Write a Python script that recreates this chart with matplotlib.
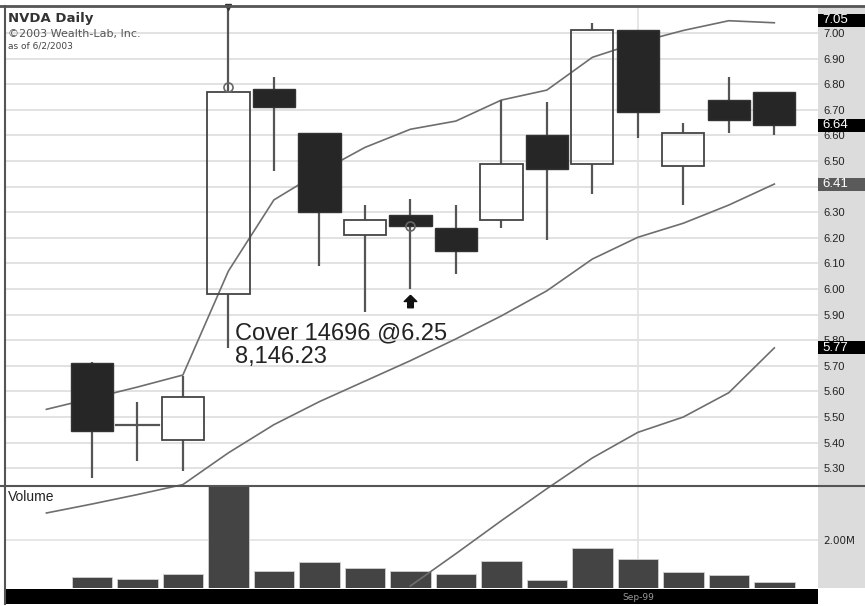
"""NVDA daily candlestick chart with bands and volume, Wealth-Lab style."""

import matplotlib

matplotlib.use("Agg")
import matplotlib.pyplot as plt
import matplotlib.transforms as mtransforms
from matplotlib.lines import Line2D
from matplotlib.patches import Rectangle

W, H = 865, 606

# ---- data ----
bar_idx = list(range(16))
opens = [5.71, 5.47, 5.41, 5.98, 6.78, 6.61, 6.21, 6.29, 6.24, 6.27, 6.60, 6.49, 7.01, 6.48, 6.74, 6.77]
highs = [5.715, 5.56, 5.66, 7.30, 6.83, 6.61, 6.33, 6.35, 6.33, 6.74, 6.73, 7.04, 7.01, 6.65, 6.83, 6.77]
lows = [5.26, 5.33, 5.29, 5.77, 6.46, 6.09, 5.91, 6.00, 6.06, 6.24, 6.19, 6.37, 6.59, 6.33, 6.61, 6.60]
closes = [5.445, 5.47, 5.58, 6.77, 6.71, 6.30, 6.27, 6.245, 6.15, 6.49, 6.47, 7.01, 6.69, 6.61, 6.66, 6.64]
volumes = [0.46e6, 0.37e6, 0.56e6, 5.0e6, 0.72e6, 1.07e6, 0.83e6, 0.72e6, 0.56e6, 1.13e6,
           0.33e6, 1.67e6, 1.18e6, 0.68e6, 0.52e6, 0.23e6]

band_idx = list(range(-1, 16))
upper_band = [5.53, 5.573, 5.617, 5.664, 6.07, 6.348, 6.456, 6.553, 6.624, 6.656, 6.738,
              6.777, 6.905, 6.963, 7.01, 7.048, 7.04]
middle_band = [5.125, 5.16, 5.197, 5.236, 5.36, 5.47, 5.56, 5.64, 5.72, 5.805, 5.895,
               5.993, 6.117, 6.202, 6.257, 6.328, 6.41]
lower_idx = list(range(7, 16))
lower_band = [4.84, 4.966, 5.095, 5.22, 5.34, 5.44, 5.50, 5.595, 5.77]

price_ticks = [5.3, 5.4, 5.5, 5.6, 5.7, 5.8, 5.9, 6.0, 6.1, 6.2, 6.3, 6.4, 6.5, 6.6, 6.7, 6.8, 6.9, 7.0]
hidden_ticks = [6.4]  # fully covered by the 6.41 flag in the reference
flag_values = [7.05, 6.64, 6.41, 5.77]
flag_colors = ["black", "black", "#5a5a5a", "black"]

trade_idx = [3, 7]
trade_prices = [6.79, 6.245]
signal_idx = 7
signal_price = 5.955
date_label_idx = 12
date_label = "Sep-99"


def px_rect(x0, y0, x1, y1):
    """Pixel box (top-left origin) -> figure fraction rect."""
    return [x0 / W, 1 - y1 / H, (x1 - x0) / W, (y1 - y0) / H]


fig = plt.figure(figsize=(W / 100, H / 100), dpi=100)
fig.patch.set_facecolor("white")

xlim = (-1.91, 15.96)
grid_c = "#e2e2e2"

# gray price-scale strip on the right
fig.add_artist(Rectangle((818 / W, 1 - 588 / H), 47 / W, 581 / H, transform=fig.transFigure,
                         facecolor="#dcdcdc", edgecolor="none", zorder=-1))

# ---- volume panel ----
ax_vol = fig.add_axes(px_rect(5, 487, 818, 588))
ax_vol.bar(bar_idx, volumes, width=0.89, color="#444444", edgecolor="#d0d0d0", linewidth=0.6, zorder=2)
ax_vol.set_xlim(*xlim)
ax_vol.set_ylim(0, 4.17e6)
ax_vol.set_yticks([2e6])
ax_vol.set_yticklabels(["2.00M"])
ax_vol.yaxis.tick_right()
ax_vol.tick_params(axis="y", length=0, pad=4, labelsize=7.5, labelcolor="#222222")
ax_vol.set_xticks([])
ax_vol.axhline(2e6, color=grid_c, lw=1.2, zorder=0)
ax_vol.axvline(date_label_idx, color=grid_c, lw=1.2, zorder=0)
for s in ax_vol.spines.values():
    s.set_visible(False)
ax_vol.text(0.004, 0.9, "Volume", transform=ax_vol.transAxes, fontsize=10,
            family="Liberation Sans", color="#222222", va="center")

# ---- price panel ----
ax = fig.add_axes(px_rect(5, 7, 818, 485))
ax.set_xlim(*xlim)
ymin, ymax = 5.2344, 7.1016
ax.set_ylim(ymin, ymax)
ax.set_yticks(price_ticks)
ax.set_yticklabels(["" if t in hidden_ticks else f"{t:.2f}" for t in price_ticks])
ax.yaxis.tick_right()
ax.tick_params(axis="y", length=0, pad=4, labelsize=8, labelcolor="#222222")
for lab in ax.get_yticklabels():
    lab.set_family("Liberation Sans")
ax.set_xticks([])
for s in ax.spines.values():
    s.set_visible(False)
for t in price_ticks:
    ax.axhline(t, color=grid_c, lw=1.4, zorder=0)
ax.axvline(date_label_idx, color=grid_c, lw=1.2, zorder=0)

# bands (drawn under candles, free to run into the volume panel)
band_c = "#6e6e6e"
ax.plot(band_idx, upper_band, color=band_c, lw=1.2, clip_on=False, zorder=1)
ax.plot(band_idx, middle_band, color=band_c, lw=1.2, clip_on=False, zorder=1)
ax.plot(lower_idx, lower_band, color=band_c, lw=1.2, clip_on=False, zorder=1)

# candles
body_w = 0.93
wick_c = "#555555"
for i, o, h, l, c in zip(bar_idx, opens, highs, lows, closes):
    top, bot = max(o, c), min(o, c)
    ax.plot([i, i], [top, h], color=wick_c, lw=1.6, zorder=2, solid_capstyle="butt")
    ax.plot([i, i], [l, bot], color=wick_c, lw=1.6, zorder=2, solid_capstyle="butt")
    if abs(o - c) < 1e-6:
        ax.plot([i - body_w / 2, i + body_w / 2], [o, o], color=wick_c, lw=1.6, zorder=3)
    elif c < o:
        ax.add_patch(Rectangle((i - body_w / 2, bot), body_w, top - bot, facecolor="#262626",
                               edgecolor="#333333", lw=1.0, zorder=3))
    else:
        ax.add_patch(Rectangle((i - body_w / 2, bot), body_w, top - bot, facecolor="none",
                               edgecolor="#444444", lw=1.3, zorder=3))

# clipped-high marker and trade markers
ax.plot([3], [ymax], marker="v", color="#333333", markersize=4, clip_on=False, zorder=5)
ax.plot(trade_idx, trade_prices, ls="none", marker="o", markersize=6.5, markerfacecolor="none",
        markeredgecolor="#666666", markeredgewidth=1.2, zorder=5)
arrow = [(0, 1), (-1, 0), (-0.45, 0), (-0.45, -1), (0.45, -1), (0.45, 0), (1, 0), (0, 1)]
ax.plot([signal_idx], [signal_price], ls="none", marker=arrow, markersize=9, color="#111111", zorder=5)

ax.text(3.14, 5.828, "Cover 14696 @6.25", fontsize=17, family="Liberation Sans",
        color="#222222", va="center", ha="left", zorder=6)
ax.text(3.14, 5.734, "8,146.23", fontsize=17, family="Liberation Sans",
        color="#222222", va="center", ha="left", zorder=6)

ax.text(0.004, 0.975, "NVDA Daily", transform=ax.transAxes, fontsize=9.5, fontweight="bold",
        color="#333333", va="center")
ax.text(0.004, 0.944, "\u00a92003 Wealth-Lab, Inc.", transform=ax.transAxes, fontsize=8,
        color="#555555", va="center")
ax.text(0.004, 0.918, "as of 6/2/2003", transform=ax.transAxes, fontsize=6.5,
        color="#444444", va="center")

# ---- date bar ----
ax_date = fig.add_axes(px_rect(5, 589, 818, 604))
ax_date.set_facecolor("black")
ax_date.set_xlim(*xlim)
ax_date.set_ylim(0, 1)
ax_date.set_xticks([])
ax_date.set_yticks([])
for s in ax_date.spines.values():
    s.set_visible(False)
ax_date.text(date_label_idx, 0.45, date_label, color="#9a9a9a", fontsize=6.5, ha="center", va="center")

# last-value flags on the price scale
blend = mtransforms.blended_transform_factory(fig.transFigure, ax.transData)
flag_h = 13 / 256
for v, fc in zip(flag_values, flag_colors):
    fig.add_artist(Rectangle((818 / W, v - flag_h / 2), 47 / W, flag_h, transform=blend,
                             facecolor=fc, edgecolor="none", zorder=5, clip_on=False))
    fig.text(822 / W, v, f"{v:.2f}", transform=blend, color="white", fontsize=9.5,
             family="Liberation Sans", va="center", ha="left", zorder=6)

# panel borders
border_c = "#555555"
fig.add_artist(Line2D([0, 1], [1 - 6 / H, 1 - 6 / H], transform=fig.transFigure, color=border_c, lw=2, zorder=7))
fig.add_artist(Line2D([0, 1], [1 - 486 / H, 1 - 486 / H], transform=fig.transFigure, color=border_c, lw=1.5, zorder=7))
fig.add_artist(Line2D([4.5 / W, 4.5 / W], [1 - 604 / H, 1 - 6 / H], transform=fig.transFigure,
                      color=border_c, lw=1.5, zorder=7))

fig.savefig("out.png", dpi=100)
